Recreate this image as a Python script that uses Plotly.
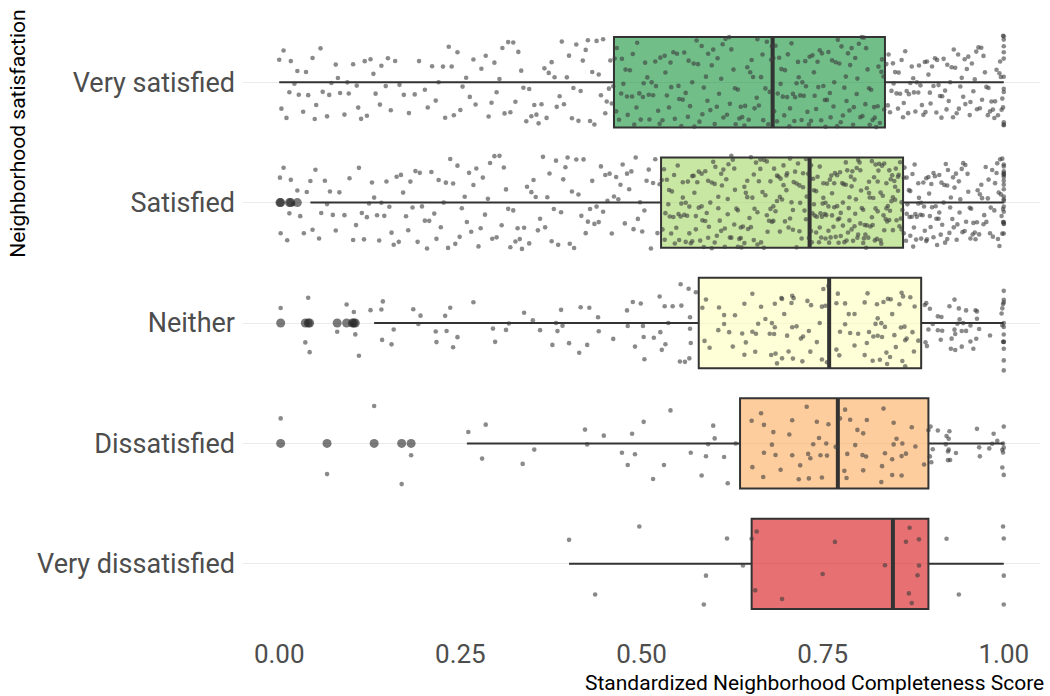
import plotly.graph_objects as go

# ---------------- data ----------------
categories = ["Very satisfied", "Satisfied", "Neither", "Dissatisfied", "Very dissatisfied"]
positions = [4, 3, 2, 1, 0]
fill_colors = ["rgba(26,150,65,0.62)", "rgba(166,217,106,0.62)", "rgba(255,255,191,0.62)",
               "rgba(253,174,97,0.62)", "rgba(215,25,28,0.62)"]

q1 = [0.462, 0.527, 0.579, 0.636, 0.652]
median = [0.681, 0.732, 0.759, 0.771, 0.847]
q3 = [0.836, 0.861, 0.886, 0.896, 0.896]
lower_whisker = [0.000, 0.043, 0.131, 0.259, 0.400]
upper_whisker = [1.000, 1.000, 1.000, 1.000, 1.000]

outliers_very_satisfied = []
outliers_satisfied = [0.001, 0.002, 0.014, 0.016, 0.025]
outliers_neither = [0.002, 0.036, 0.040, 0.042, 0.080, 0.093, 0.101, 0.103, 0.105]
outliers_dissatisfied = [0.002, 0.066, 0.131, 0.169, 0.182]
outliers_very_dissatisfied = []

scores_very_satisfied = [
    0.000, 0.003, 0.006, 0.010, 0.014, 0.016, 0.021, 0.025, 0.027, 0.033, 0.037, 0.040, 0.046, 0.049,
    0.051, 0.057, 0.060, 0.066, 0.069, 0.072, 0.078, 0.081, 0.084, 0.090, 0.094, 0.096, 0.102, 0.107,
    0.109, 0.113, 0.118, 0.121, 0.126, 0.130, 0.133, 0.139, 0.141, 0.147, 0.150, 0.154, 0.160, 0.166,
    0.172, 0.179, 0.187, 0.193, 0.201, 0.205, 0.211, 0.216, 0.220, 0.226, 0.229, 0.234, 0.238, 0.241,
    0.246, 0.250, 0.253, 0.258, 0.263, 0.268, 0.271, 0.279, 0.285, 0.289, 0.293, 0.297, 0.300, 0.304,
    0.308, 0.311, 0.316, 0.319, 0.323, 0.326, 0.330, 0.334, 0.337, 0.341, 0.345, 0.348, 0.352, 0.355,
    0.358, 0.362, 0.366, 0.369, 0.372, 0.376, 0.380, 0.383, 0.387, 0.390, 0.393, 0.397, 0.400, 0.404,
    0.406, 0.410, 0.413, 0.416, 0.419, 0.423, 0.426, 0.429, 0.432, 0.435, 0.438, 0.441, 0.444, 0.447,
    0.450, 0.452, 0.455, 0.457, 0.459, 0.461,
    0.463, 0.465, 0.466, 0.469, 0.472, 0.473, 0.475, 0.478, 0.480, 0.481, 0.484, 0.487, 0.488, 0.490,
    0.493, 0.494, 0.497, 0.499, 0.502, 0.503, 0.505, 0.508, 0.510, 0.511, 0.514, 0.516, 0.519, 0.520,
    0.523, 0.525, 0.526, 0.529, 0.532, 0.533, 0.535, 0.538, 0.540, 0.541, 0.544, 0.546, 0.549, 0.551,
    0.552, 0.555, 0.557, 0.559, 0.561, 0.564, 0.565, 0.567, 0.570, 0.572, 0.573, 0.576, 0.578, 0.580,
    0.583, 0.584, 0.586, 0.589, 0.591, 0.592, 0.595, 0.597, 0.599, 0.601, 0.604, 0.605, 0.607, 0.610,
    0.612, 0.613, 0.616, 0.618, 0.621, 0.622, 0.624, 0.627, 0.629, 0.630, 0.633, 0.635, 0.637, 0.639,
    0.642, 0.643, 0.646, 0.648, 0.650, 0.652, 0.654, 0.656, 0.659, 0.660, 0.662, 0.665, 0.667, 0.668,
    0.671, 0.673, 0.675, 0.677, 0.679, 0.680,
    0.682, 0.683, 0.685, 0.687, 0.688, 0.690, 0.692, 0.693, 0.695, 0.697, 0.698, 0.701, 0.702, 0.704,
    0.705, 0.707, 0.709, 0.711, 0.712, 0.714, 0.716, 0.717, 0.719, 0.721, 0.722, 0.724, 0.726, 0.727,
    0.729, 0.731, 0.732, 0.734, 0.736, 0.738, 0.739, 0.741, 0.743, 0.744, 0.746, 0.748, 0.749, 0.751,
    0.753, 0.754, 0.756, 0.758, 0.760, 0.761, 0.763, 0.765, 0.766, 0.768, 0.770, 0.771, 0.773, 0.775,
    0.776, 0.778, 0.780, 0.782, 0.783, 0.785, 0.787, 0.788, 0.790, 0.792, 0.793, 0.795, 0.797, 0.798,
    0.800, 0.802, 0.804, 0.805, 0.807, 0.809, 0.810, 0.812, 0.814, 0.815, 0.817, 0.819, 0.821, 0.822,
    0.824, 0.826, 0.827, 0.829, 0.831, 0.832, 0.834, 0.835,
    0.838, 0.840, 0.841, 0.843, 0.845, 0.847, 0.848, 0.850, 0.852, 0.854, 0.855, 0.857, 0.859, 0.861,
    0.862, 0.864, 0.866, 0.868, 0.869, 0.871, 0.873, 0.875, 0.876, 0.878, 0.880, 0.882, 0.883, 0.885,
    0.887, 0.889, 0.891, 0.892, 0.894, 0.896, 0.898, 0.899, 0.901, 0.903, 0.905, 0.907, 0.908, 0.910,
    0.912, 0.914, 0.915, 0.917, 0.919, 0.921, 0.922, 0.924, 0.926, 0.928, 0.930, 0.931, 0.933, 0.935,
    0.937, 0.938, 0.940, 0.942, 0.944, 0.946, 0.947, 0.949, 0.951, 0.953, 0.954, 0.956, 0.958, 0.960,
    0.962, 0.963, 0.965, 0.967, 0.969, 0.970, 0.972, 0.974, 0.976, 0.978, 0.979, 0.981, 0.983, 0.985,
    0.987, 0.988, 0.990, 0.992, 0.994, 0.995, 0.996, 0.997, 0.998, 0.999, 0.999, 1.000, 1.000, 1.000,
    1.000, 1.000, 1.000, 1.000, 1.000, 1.000, 1.000, 1.000,
]

scores_satisfied = [
    0.001, 0.002, 0.006, 0.011, 0.014, 0.016, 0.019, 0.025, 0.029, 0.034, 0.038, 0.043, 0.046, 0.050,
    0.055, 0.058, 0.063, 0.066, 0.070, 0.074, 0.078, 0.083, 0.090, 0.097, 0.102, 0.106, 0.110, 0.114,
    0.117, 0.121, 0.124, 0.128, 0.131, 0.135, 0.138, 0.141, 0.145, 0.148, 0.152, 0.155, 0.158, 0.162,
    0.165, 0.168, 0.171, 0.175, 0.178, 0.181, 0.184, 0.188, 0.191, 0.194, 0.197, 0.201, 0.204, 0.207,
    0.210, 0.214, 0.217, 0.220, 0.223, 0.227, 0.230, 0.233, 0.236, 0.240, 0.243, 0.246, 0.249, 0.252,
    0.256, 0.259, 0.262, 0.265, 0.268, 0.272, 0.275, 0.278, 0.281, 0.284, 0.288, 0.291, 0.294, 0.297,
    0.300, 0.304, 0.307, 0.310, 0.313, 0.316, 0.319, 0.323, 0.326, 0.329, 0.332, 0.335, 0.338, 0.342,
    0.345, 0.348, 0.351, 0.354, 0.357, 0.360, 0.364, 0.367, 0.370, 0.373, 0.376, 0.379, 0.382, 0.385,
    0.389, 0.392, 0.395, 0.398, 0.401, 0.404, 0.407, 0.410, 0.413, 0.417, 0.420, 0.423, 0.426, 0.429,
    0.432, 0.435, 0.438, 0.441, 0.444, 0.447, 0.450, 0.453, 0.456, 0.459, 0.462, 0.465, 0.468, 0.471,
    0.474, 0.477, 0.480, 0.483, 0.486, 0.489, 0.492, 0.495, 0.498, 0.501, 0.504, 0.507, 0.510, 0.513,
    0.516, 0.519, 0.522, 0.525,
    0.528, 0.529, 0.531, 0.532, 0.533, 0.535, 0.537, 0.538, 0.539, 0.541, 0.542, 0.544, 0.545, 0.546,
    0.548, 0.550, 0.551, 0.552, 0.554, 0.555, 0.557, 0.557, 0.559, 0.561, 0.561, 0.563, 0.564, 0.566,
    0.566, 0.568, 0.570, 0.570, 0.572, 0.573, 0.575, 0.575, 0.577, 0.579, 0.579, 0.581, 0.583, 0.583,
    0.584, 0.586, 0.588, 0.588, 0.590, 0.592, 0.592, 0.593, 0.595, 0.597, 0.597, 0.599, 0.601, 0.601,
    0.602, 0.604, 0.606, 0.606, 0.608, 0.610, 0.610, 0.611, 0.613, 0.615, 0.615, 0.617, 0.619, 0.619,
    0.620, 0.622, 0.624, 0.624, 0.626, 0.628, 0.628, 0.629, 0.631, 0.633, 0.633, 0.635, 0.637, 0.637,
    0.638, 0.640, 0.642, 0.642, 0.644, 0.646, 0.646, 0.647, 0.649, 0.651, 0.651, 0.653, 0.655, 0.655,
    0.656, 0.658, 0.660, 0.660, 0.662, 0.664, 0.664, 0.665, 0.667, 0.669, 0.669, 0.671, 0.673, 0.673,
    0.674, 0.676, 0.678, 0.678, 0.680, 0.682, 0.682, 0.683, 0.685, 0.687, 0.687, 0.689, 0.691, 0.691,
    0.692, 0.694, 0.696, 0.696, 0.698, 0.700, 0.700, 0.701, 0.703, 0.705, 0.705, 0.707, 0.709, 0.709,
    0.710, 0.712, 0.714, 0.714, 0.716, 0.718, 0.718, 0.719, 0.721, 0.723, 0.723, 0.725, 0.727, 0.727,
    0.728, 0.730, 0.731,
    0.733, 0.734, 0.734, 0.735, 0.736, 0.737, 0.738, 0.738, 0.739, 0.741, 0.741, 0.742, 0.743, 0.745,
    0.746, 0.746, 0.747, 0.748, 0.749, 0.750, 0.751, 0.751, 0.753, 0.754, 0.754, 0.755, 0.756, 0.758,
    0.758, 0.759, 0.760, 0.761, 0.762, 0.763, 0.763, 0.765, 0.766, 0.766, 0.767, 0.768, 0.770, 0.770,
    0.771, 0.772, 0.773, 0.774, 0.775, 0.775, 0.777, 0.778, 0.778, 0.779, 0.780, 0.782, 0.782, 0.783,
    0.784, 0.785, 0.786, 0.787, 0.787, 0.789, 0.790, 0.790, 0.791, 0.792, 0.794, 0.794, 0.795, 0.796,
    0.797, 0.798, 0.799, 0.799, 0.801, 0.802, 0.802, 0.803, 0.804, 0.806, 0.806, 0.807, 0.808, 0.809,
    0.810, 0.811, 0.811, 0.813, 0.814, 0.814, 0.815, 0.816, 0.818, 0.818, 0.819, 0.820, 0.821, 0.822,
    0.823, 0.823, 0.825, 0.826, 0.826, 0.827, 0.828, 0.830, 0.830, 0.831, 0.832, 0.833, 0.834, 0.835,
    0.835, 0.837, 0.838, 0.838, 0.839, 0.840, 0.842, 0.842, 0.843, 0.844, 0.845, 0.846, 0.847, 0.847,
    0.849, 0.850, 0.850, 0.851, 0.852, 0.854, 0.854, 0.855, 0.856, 0.857, 0.858, 0.859, 0.859, 0.860,
    0.862, 0.862, 0.863, 0.865, 0.866, 0.866, 0.867, 0.869, 0.870, 0.871, 0.871, 0.873, 0.874, 0.875,
    0.876, 0.877, 0.878, 0.879, 0.880, 0.882, 0.882, 0.883, 0.885, 0.886, 0.886, 0.888, 0.889, 0.890,
    0.891, 0.893, 0.893, 0.894, 0.896, 0.897, 0.898, 0.899, 0.900, 0.901, 0.903, 0.903, 0.905, 0.906,
    0.907, 0.908, 0.910, 0.911, 0.911, 0.913, 0.914, 0.915, 0.917, 0.918, 0.919, 0.920, 0.922, 0.922,
    0.923, 0.925, 0.926, 0.927, 0.929, 0.930, 0.931, 0.932, 0.934, 0.935, 0.936, 0.938, 0.939, 0.940,
    0.942, 0.943, 0.944, 0.946, 0.947, 0.948, 0.950, 0.951, 0.953, 0.954, 0.955, 0.957, 0.958, 0.960,
    0.961, 0.963, 0.964, 0.966, 0.967, 0.969, 0.970, 0.972, 0.973, 0.975, 0.976, 0.978, 0.979, 0.981,
    0.982, 0.984, 0.985, 0.987, 0.988, 0.990, 0.991, 0.992, 0.993, 0.994, 0.995, 0.996, 0.997, 0.998,
    0.998, 0.999, 0.999, 1.000, 1.000, 1.000, 1.000, 1.000, 1.000, 1.000, 1.000, 1.000, 1.000, 1.000,
    1.000, 1.000, 1.000, 1.000, 1.000, 1.000, 1.000, 1.000,
]

scores_neither = [
    0.002, 0.036, 0.040, 0.042, 0.080, 0.093, 0.101, 0.103, 0.105, 0.110, 0.126, 0.141, 0.142, 0.143,
    0.155, 0.158, 0.185, 0.192, 0.195, 0.216, 0.217, 0.229, 0.231, 0.236, 0.240, 0.246, 0.268, 0.295,
    0.298, 0.313, 0.317, 0.338, 0.350, 0.360, 0.377, 0.382, 0.384, 0.389, 0.391, 0.400, 0.414, 0.416,
    0.425, 0.428, 0.440, 0.441, 0.461, 0.480, 0.481, 0.488, 0.491, 0.499, 0.502, 0.503, 0.504, 0.517,
    0.525, 0.526, 0.528, 0.532, 0.533, 0.537, 0.543, 0.553, 0.554, 0.555, 0.560, 0.565, 0.566, 0.567,
    0.567, 0.568, 0.575,
    0.584, 0.587, 0.589, 0.594, 0.606, 0.607, 0.614, 0.614, 0.621, 0.626, 0.629, 0.639, 0.642, 0.642,
    0.644, 0.653, 0.653, 0.657, 0.658, 0.661, 0.665, 0.671, 0.677, 0.679, 0.680, 0.683, 0.684, 0.684,
    0.685, 0.687, 0.693, 0.694, 0.694, 0.697, 0.701, 0.703, 0.707, 0.708, 0.708, 0.709, 0.710, 0.714,
    0.720, 0.722, 0.723, 0.729, 0.731, 0.733, 0.734, 0.742, 0.746, 0.749, 0.749, 0.751, 0.754, 0.756,
    0.758,
    0.769, 0.769, 0.771, 0.773, 0.774, 0.781, 0.781, 0.786, 0.788, 0.794, 0.794, 0.799, 0.808, 0.808,
    0.811, 0.812, 0.814, 0.819, 0.820, 0.823, 0.825, 0.826, 0.826, 0.829, 0.831, 0.832, 0.834, 0.836,
    0.838, 0.839, 0.840, 0.843, 0.844, 0.846, 0.849, 0.851, 0.856, 0.858, 0.859, 0.860, 0.861, 0.863,
    0.864, 0.864, 0.866, 0.871, 0.874, 0.876, 0.877, 0.882,
    0.891, 0.892, 0.893, 0.894, 0.896, 0.898, 0.902, 0.909, 0.909, 0.913, 0.914, 0.915, 0.925, 0.927,
    0.928, 0.932, 0.932, 0.933, 0.933, 0.936, 0.938, 0.939, 0.942, 0.942, 0.944, 0.948, 0.948, 0.954,
    0.954, 0.958, 0.961, 0.962, 0.963, 0.963, 0.966, 0.981, 0.997, 0.998, 0.998, 0.999, 0.999, 1.000,
    1.000, 1.000, 1.000, 1.000, 1.000, 1.000, 1.000, 1.000, 1.000, 1.000,
]

scores_dissatisfied = [
    0.002, 0.066, 0.131, 0.169, 0.182, 0.261, 0.280, 0.285, 0.336, 0.352, 0.422, 0.425, 0.448, 0.473,
    0.481, 0.487, 0.491, 0.503, 0.516, 0.531, 0.540, 0.568, 0.583, 0.589, 0.592, 0.599, 0.601, 0.614,
    0.619, 0.630,
    0.652, 0.653, 0.665, 0.668, 0.669, 0.669, 0.680, 0.682, 0.685, 0.692, 0.704, 0.708, 0.708, 0.717,
    0.719, 0.728, 0.730, 0.731, 0.733, 0.737, 0.742, 0.745, 0.747, 0.749, 0.755, 0.756, 0.758, 0.768,
    0.774,
    0.780, 0.781, 0.783, 0.784, 0.788, 0.795, 0.798, 0.805, 0.806, 0.806, 0.810, 0.811, 0.831, 0.832,
    0.834, 0.836, 0.846, 0.846, 0.848, 0.848, 0.852, 0.859, 0.859, 0.860, 0.865, 0.873, 0.878, 0.890,
    0.896, 0.898, 0.899, 0.900, 0.902, 0.909, 0.920, 0.921, 0.923, 0.923, 0.924, 0.924, 0.925, 0.926,
    0.934, 0.963, 0.966, 0.967, 0.980, 0.984, 0.986, 0.991, 0.998, 0.998, 0.999, 0.999, 1.000, 1.000,
    1.000,
]

scores_very_dissatisfied = [
    0.400, 0.436, 0.497, 0.586, 0.589, 0.618, 0.640, 0.652, 0.657, 0.659, 0.694, 0.750, 0.767, 0.836,
    0.865, 0.869, 0.870, 0.873, 0.881, 0.883, 0.883, 0.921, 0.938, 0.999, 1.000, 1.000, 1.000,
]

x_ticks = [0, 0.25, 0.5, 0.75, 1.0]
x_tick_labels = ["0.00", "0.25", "0.50", "0.75", "1.00"]
x_title = "Standardized Neighborhood Completeness Score"
y_title = "Neighborhood satisfaction"

all_scores = [scores_very_satisfied, scores_satisfied, scores_neither, scores_dissatisfied,
              scores_very_dissatisfied]
all_outliers = [outliers_very_satisfied, outliers_satisfied, outliers_neither, outliers_dissatisfied,
                outliers_very_dissatisfied]

# ---------------- style ----------------
BOX_WIDTH = 0.75
JITTER_WIDTH = 0.8
LINE_COLOR = "#333333"
FONT = "Roboto"
POINT_COLOR = "rgba(60,60,60,0.6)"

fig = go.Figure()

# boxes (precomputed statistics)
for i, cat in enumerate(categories):
    fig.add_trace(go.Box(
        y=[positions[i]], q1=[q1[i]], median=[median[i]], q3=[q3[i]],
        lowerfence=[lower_whisker[i]], upperfence=[upper_whisker[i]],
        orientation="h", width=BOX_WIDTH, boxpoints=False, whiskerwidth=0,
        fillcolor=fill_colors[i], line=dict(color=LINE_COLOR, width=2),
        name=cat, showlegend=False, hoverinfo="skip",
    ))

# thicker median bars (degenerate boxes at the median value)
for i, cat in enumerate(categories):
    fig.add_trace(go.Box(
        y=[positions[i]], q1=[median[i]], median=[median[i]], q3=[median[i]],
        lowerfence=[median[i]], upperfence=[median[i]],
        orientation="h", width=BOX_WIDTH, boxpoints=False, whiskerwidth=0,
        fillcolor="rgba(0,0,0,0)", line=dict(color=LINE_COLOR, width=4),
        name=cat, showlegend=False, hoverinfo="skip",
    ))

# jittered raw points, drawn with the library's own jitter; each region
# (outliers, lower tail, quartile bands, upper tail) is its own trace so that
# sparse regions still get a full-height jitter band
for i, cat in enumerate(categories):
    vals = all_scores[i]
    bounds = [-1.0, lower_whisker[i], q1[i], median[i], q3[i], 2.0]
    for k in range(len(bounds) - 1):
        seg = [v for v in vals if bounds[k] <= v < bounds[k + 1]]
        if not seg:
            continue
        fig.add_trace(go.Box(
            x=seg, y=[positions[i]] * len(seg),
            orientation="h", width=JITTER_WIDTH, boxpoints="all", jitter=1, pointpos=0,
            fillcolor="rgba(0,0,0,0)", line=dict(color="rgba(0,0,0,0)", width=0),
            marker=dict(size=4.6, color=POINT_COLOR, line=dict(width=0)),
            name=cat, showlegend=False, hoverinfo="x",
        ))

# box-plot outliers
for i, cat in enumerate(categories):
    if all_outliers[i]:
        fig.add_trace(go.Scatter(
            x=all_outliers[i], y=[positions[i]] * len(all_outliers[i]), mode="markers",
            marker=dict(size=9, color="rgba(40,40,40,0.62)", line=dict(width=0)),
            showlegend=False, hoverinfo="x",
        ))

fig.update_layout(
    width=1050, height=696,
    margin=dict(l=243, r=10, t=10, b=60),
    paper_bgcolor="white", plot_bgcolor="white",
    font=dict(family=FONT),
    showlegend=False,
    xaxis=dict(
        range=[-0.05, 1.05], tickvals=x_ticks, ticktext=x_tick_labels,
        showgrid=False, zeroline=False, showline=False, ticks="",
        tickfont=dict(family=FONT, size=26, color="#4d4d4d"),
    ),
    yaxis=dict(
        range=[-0.6, 4.6], tickvals=positions, ticktext=categories,
        showgrid=True, gridcolor="#ebebeb", gridwidth=1.2,
        zeroline=False, showline=False, ticks="", ticklabelstandoff=7,
        tickfont=dict(family=FONT, size=27, color="#4d4d4d"),
    ),
    annotations=[
        dict(text=x_title, xref="paper", yref="paper", x=1.008, y=-0.075,
             xanchor="right", yanchor="middle", showarrow=False,
             font=dict(family=FONT, size=21, color="black")),
        dict(text=y_title, xref="paper", yref="paper", x=-0.282, y=1.004,
             xanchor="center", yanchor="top", textangle=-90, showarrow=False,
             font=dict(family=FONT, size=21, color="black")),
    ],
)

fig.write_html("out.html")
